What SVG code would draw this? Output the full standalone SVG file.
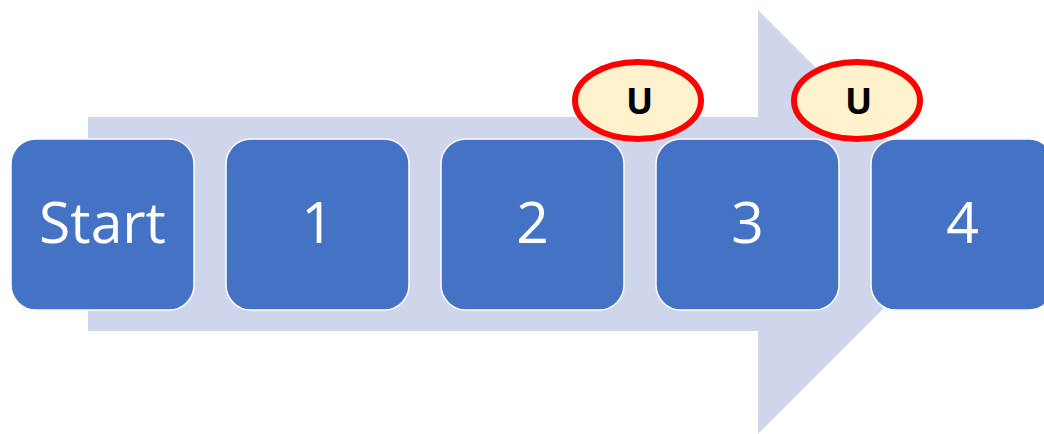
<svg xmlns="http://www.w3.org/2000/svg" width="1044" height="434" viewBox="0 0 1044 434">
<style>
.box{fill:#4472C4;stroke:#FFFFFF;stroke-width:1.5}
.lbl{font-family:"Open Sans","Noto Sans",sans-serif;font-size:57px;fill:#FFFFFF;text-anchor:middle}
.oval{fill:#FFF2CC;stroke:#FF0000;stroke-width:6}
.u{font-family:"Open Sans","Noto Sans",sans-serif;font-weight:bold;font-size:36px;fill:#000000;text-anchor:middle}
</style>
<rect width="1044" height="434" fill="#FFFFFF"/>
<g id="connectors">
<polygon id="big-arrow" points="88,117 758,117 758,10 970,222 758,434 758,331 88,331" fill="#CFD5EA"/>
</g>
<g id="node-start"><rect class="box" x="11" y="139" width="183" height="171" rx="25"/><text class="lbl" x="102.5" y="243">Start</text></g>
<g id="node-1"><rect class="box" x="226" y="139" width="183" height="171" rx="25"/><text class="lbl" x="317.5" y="243">1</text></g>
<g id="node-2"><rect class="box" x="441" y="139" width="183" height="171" rx="25"/><text class="lbl" x="532.5" y="243">2</text></g>
<g id="node-3"><rect class="box" x="656" y="139" width="183" height="171" rx="25"/><text class="lbl" x="747.5" y="243">3</text></g>
<g id="node-4"><rect class="box" x="871" y="139" width="183" height="171" rx="25"/><text class="lbl" x="962.5" y="243">4</text></g>
<g id="marker-u1"><ellipse class="oval" cx="638" cy="100.5" rx="63" ry="38.5"/><text class="u" x="639.5" y="114">U</text></g>
<g id="marker-u2"><ellipse class="oval" cx="857" cy="100.5" rx="63" ry="38.5"/><text class="u" x="858.5" y="114">U</text></g>
</svg>
